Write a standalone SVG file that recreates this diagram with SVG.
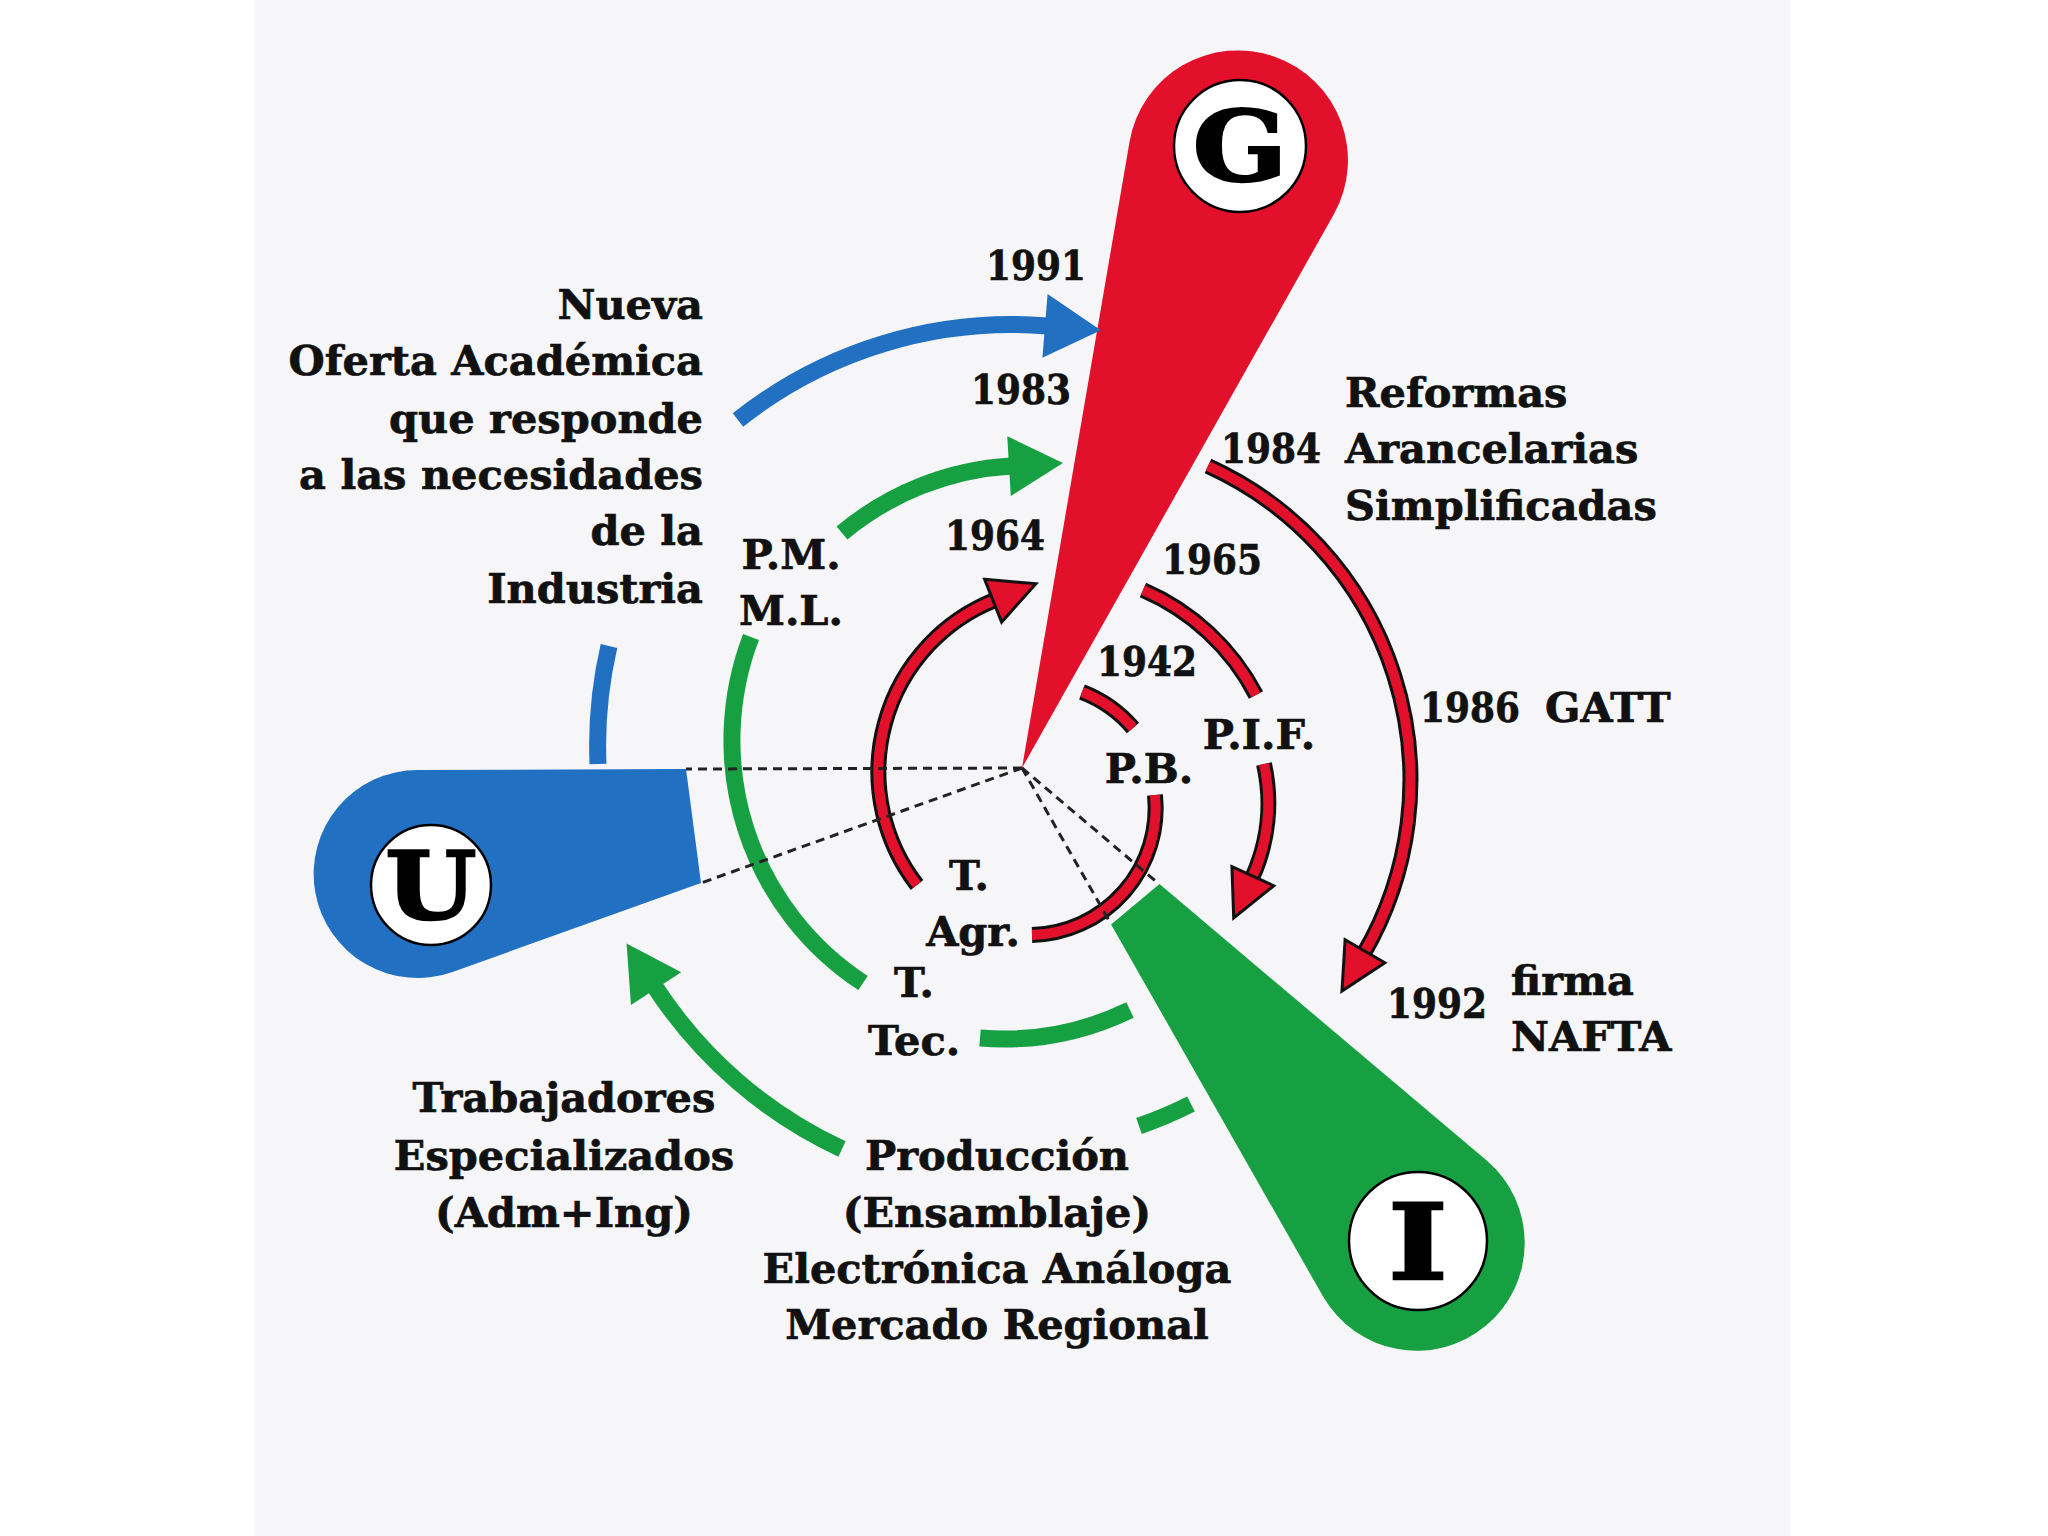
<svg xmlns="http://www.w3.org/2000/svg" width="2048" height="1536" viewBox="0 0 2048 1536">
<defs>
<style>
.t{font-family:"DejaVu Serif","Liberation Serif",serif;font-weight:bold;font-size:41.5px;fill:#111;stroke:#111;stroke-width:0.7}
.m{text-anchor:middle}
.e{text-anchor:end}
.big{font-family:"DejaVu Serif","Liberation Serif",serif;font-weight:900;fill:#000;stroke:#000;stroke-width:2.5;text-anchor:middle}
.blue{fill:none;stroke:#2270c2;stroke-width:17}
.green{fill:none;stroke:#16a042;stroke-width:17}
.rb{fill:none;stroke:#111;stroke-width:16}
.rr{fill:none;stroke:#e3102b;stroke-width:10}
.dash{stroke:#222;stroke-width:3;stroke-dasharray:9 6;fill:none}
.disc{fill:#fff;stroke:#000;stroke-width:2.5}
</style>
<marker id="ahB" markerUnits="userSpaceOnUse" markerWidth="80" markerHeight="80" refX="2" refY="32" orient="auto" overflow="visible"><path d="M0,0 L56,32 L0,64 Z" fill="#2270c2"/></marker>
<marker id="ahG" markerUnits="userSpaceOnUse" markerWidth="80" markerHeight="80" refX="2" refY="30" orient="auto" overflow="visible"><path d="M0,0 L54,30 L0,60 Z" fill="#16a042"/></marker>
<marker id="ahR" markerUnits="userSpaceOnUse" markerWidth="80" markerHeight="80" refX="4" refY="25" orient="auto" overflow="visible"><path d="M2,2 L48,25 L2,48 Z" fill="#e3102b" stroke="#111" stroke-width="3" stroke-linejoin="miter"/></marker>
</defs>
<rect x="0" y="0" width="2048" height="1536" fill="#ffffff"/>
<rect x="255" y="0" width="1535" height="1536" fill="#f6f6f8"/>

<g id="node-G">
<path d="M 1022 768 L 1129.6 141.4 A 110 110 0 1 1 1334 214 Z" fill="#e3102b"/>
</g>
<g id="node-U">
<path d="M 686 769 L 418 770 A 104 104 0 1 0 453.3 971.7 L 701 883 Z" fill="#2270c2"/>
</g>
<g id="node-I">
<path d="M 1159.5 884.1 L 1486.7 1160.5 A 108 108 0 1 1 1323.1 1296.6 L 1111.1 924.4 Z" fill="#16a042"/>
</g>

<g id="connectors">
<path class="blue" d="M 609 646 A 440 440 0 0 0 598 764"/>
<path class="blue" d="M 738 420 A 440 440 0 0 1 1047 326" marker-end="url(#ahB)"/>
<path class="green" d="M 842 533 A 290 290 0 0 1 1011 466" marker-end="url(#ahG)"/>
<path class="green" d="M 751 637 A 290 290 0 0 0 863 983"/>
<path class="green" d="M 980 1038 A 290 290 0 0 0 1130 1010"/>
<path class="green" d="M 842 1149 A 450 450 0 0 1 655 987" marker-end="url(#ahG)"/>
<path class="green" d="M 1139 1126 A 420 420 0 0 0 1191 1104"/>
<g id="red-arrows">
<path class="rb" d="M 917 885 A 185 185 0 0 1 995 600"/>
<path class="rr" d="M 917 885 A 185 185 0 0 1 995 600" marker-end="url(#ahR)"/>
<path class="rb" d="M 1143 590 A 230 230 0 0 1 1256 695"/>
<path class="rr" d="M 1143 590 A 230 230 0 0 1 1256 695"/>
<path class="rb" d="M 1264 764 A 180 180 0 0 1 1252 878"/>
<path class="rr" d="M 1264 764 A 180 180 0 0 1 1252 878" marker-end="url(#ahR)"/>
<path class="rb" d="M 1208 466 A 345 345 0 0 1 1364 953"/>
<path class="rr" d="M 1208 466 A 345 345 0 0 1 1364 953" marker-end="url(#ahR)"/>
<path class="rb" d="M 1082 692 A 127 127 0 0 1 1133 728"/>
<path class="rr" d="M 1082 692 A 127 127 0 0 1 1133 728"/>
<path class="rb" d="M 1155 795 A 127 127 0 0 1 1032 935"/>
<path class="rr" d="M 1155 795 A 127 127 0 0 1 1032 935"/>
</g>
<line class="dash" x1="1022" y1="768" x2="686" y2="769"/>
<line class="dash" x1="1022" y1="768" x2="701" y2="883"/>
<line class="dash" x1="1022" y1="768" x2="1159" y2="884"/>
<line class="dash" x1="1022" y1="768" x2="1111" y2="924"/>
</g>

<g id="node-G-label">
<circle class="disc" cx="1240" cy="146" r="66"/>
<text class="big" transform="translate(1240,181) scale(1.14,1)" x="0" y="0" font-size="97">G</text>
</g>
<g id="node-U-label">
<circle class="disc" cx="431" cy="885" r="60"/>
<text class="big" transform="translate(431,919) scale(1.12,1)" x="0" y="0" font-size="93">U</text>
</g>
<g id="node-I-label">
<circle class="disc" cx="1418" cy="1241" r="69"/>
<text class="big" transform="translate(1418,1279) scale(1.22,1)" x="0" y="0" font-size="104">I</text>
</g>

<g id="labels" class="t">
<text class="e" x="703" y="319">Nueva</text>
<text class="e" x="703" y="375">Oferta Académica</text>
<text class="e" x="703" y="433">que responde</text>
<text class="e" x="703" y="489">a las necesidades</text>
<text class="e" x="703" y="545">de la</text>
<text class="e" x="703" y="603">Industria</text>
<text x="986" y="280" textLength="100" lengthAdjust="spacingAndGlyphs">1991</text>
<text x="971" y="404" textLength="100" lengthAdjust="spacingAndGlyphs">1983</text>
<text x="945" y="550" textLength="100" lengthAdjust="spacingAndGlyphs">1964</text>
<text class="m" x="791" y="569">P.M.</text>
<text class="m" x="791" y="625">M.L.</text>
<text x="1162" y="574" textLength="100" lengthAdjust="spacingAndGlyphs">1965</text>
<text x="1097" y="676" textLength="100" lengthAdjust="spacingAndGlyphs">1942</text>
<text class="m" x="1259" y="749">P.I.F.</text>
<text class="m" x="1149" y="783">P.B.</text>
<text x="1345" y="407">Reformas</text>
<text x="1221" y="463" textLength="100" lengthAdjust="spacingAndGlyphs">1984</text>
<text x="1345" y="463">Arancelarias</text>
<text x="1345" y="520">Simplificadas</text>
<text x="1420" y="722" textLength="100" lengthAdjust="spacingAndGlyphs">1986</text>
<text x="1545" y="722">GATT</text>
<text x="1387" y="1018" textLength="100" lengthAdjust="spacingAndGlyphs">1992</text>
<text x="1511" y="995">firma</text>
<text x="1511" y="1051">NAFTA</text>
<text class="m" x="969" y="890">T.</text>
<text class="m" x="973" y="946">Agr.</text>
<text class="m" x="914" y="997">T.</text>
<text class="m" x="914" y="1055">Tec.</text>
<text class="m" x="564" y="1112">Trabajadores</text>
<text class="m" x="564" y="1170">Especializados</text>
<text class="m" x="564" y="1227">(Adm+Ing)</text>
<text class="m" x="997" y="1170">Producción</text>
<text class="m" x="997" y="1227">(Ensamblaje)</text>
<text class="m" x="997" y="1283">Electrónica Análoga</text>
<text class="m" x="997" y="1339">Mercado Regional</text>
</g>
</svg>
